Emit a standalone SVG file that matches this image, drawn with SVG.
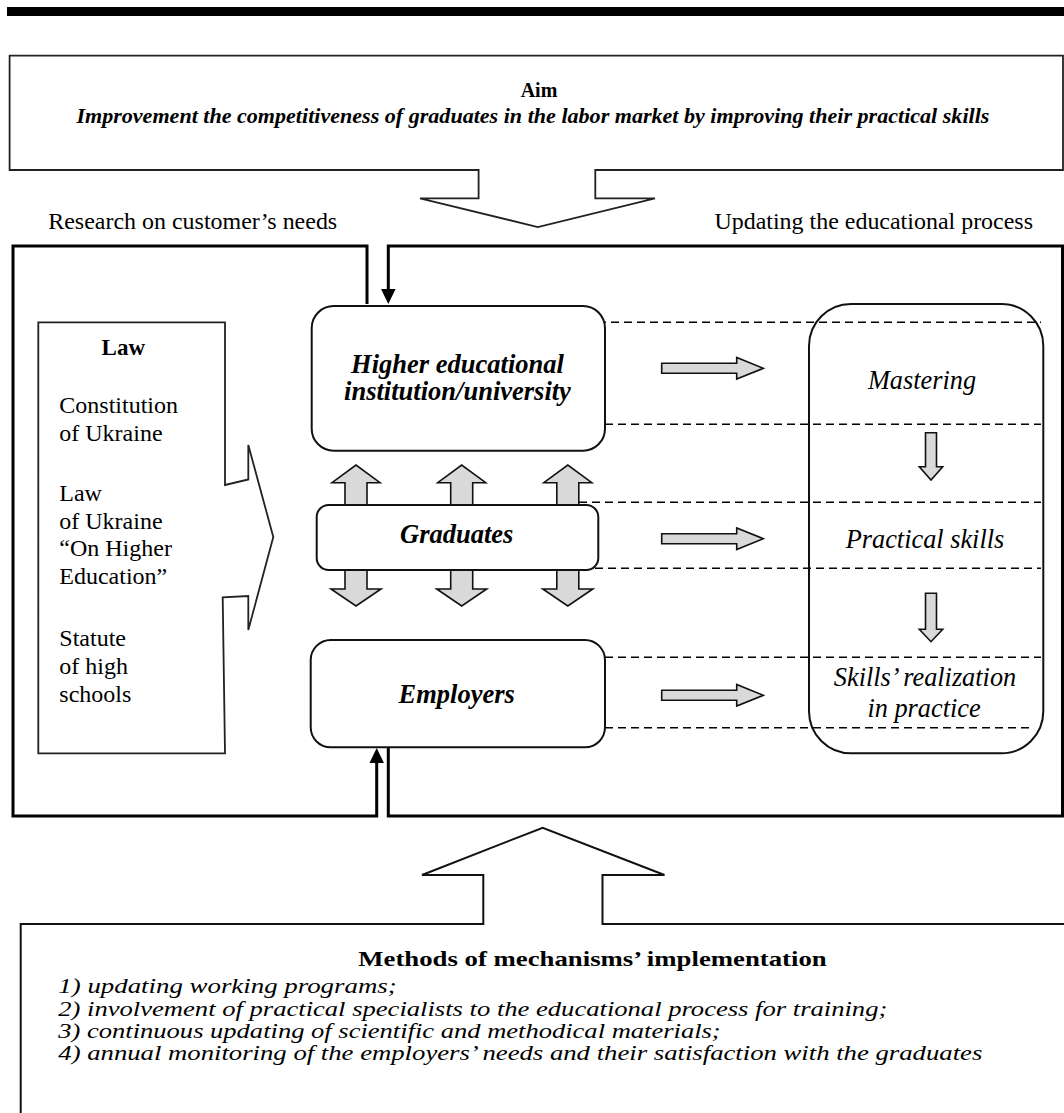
<svg xmlns="http://www.w3.org/2000/svg" width="1064" height="1113" viewBox="0 0 1064 1113">
<style>
text{font-family:"Liberation Serif","Times New Roman",serif;fill:#000}
.lbl{font-size:24px}
.law{font-size:24px}
.node{font-size:26.5px;font-weight:bold;font-style:italic;text-anchor:middle}
.res{font-size:26.3px;font-style:italic;text-anchor:middle}
.meth{font-size:20px;font-style:italic}
.box{fill:#fff;stroke:#111;stroke-width:2}
.thin{fill:#fff;stroke:#222;stroke-width:1.8}
.frame{fill:none;stroke:#000;stroke-width:3;stroke-linejoin:miter}
.dash{fill:none;stroke:#000;stroke-width:1.6;stroke-dasharray:8 5}
.gray{fill:#d9d9d9;stroke:#111;stroke-width:1.6;stroke-linejoin:miter}
.head{fill:#000}
</style>
<rect x="7" y="7" width="1057" height="9" fill="#000"/>

<g id="aim">
<polygon class="thin" points="9.6,55.7 1063,55.7 1063,170 595.3,170 595.3,198.3 655,198.3 537.8,227 420,198.3 478.6,198.3 478.6,170 9.6,170"/>
<text x="539" y="96.7" font-size="20" font-weight="bold" text-anchor="middle">Aim</text>
<text x="76.4" y="123.3" font-size="22" font-weight="bold" font-style="italic" textLength="913" lengthAdjust="spacingAndGlyphs">Improvement the competitiveness of graduates in the labor market by improving their practical skills</text>
</g>

<g id="labels">
<text class="lbl" x="48.2" y="229.3" textLength="289" lengthAdjust="spacingAndGlyphs">Research on customer’s needs</text>
<text class="lbl" x="714.4" y="229.3" textLength="318.6" lengthAdjust="spacingAndGlyphs">Updating the educational process</text>
</g>

<g id="connectors">
<path class="frame" d="M367,304 V246 H13 V816 H376.7 V762"/>
<polygon class="head" points="369.5,763 383.9,763 376.7,748"/>
<path class="frame" d="M388.3,748 V816 H1062.5 V246 H388.3 V290"/>
<polygon class="head" points="381,289 395.6,289 388.3,304"/>
<g id="dashes">
<line class="dash" x1="598" y1="322.3" x2="1041" y2="322.3"/>
<line class="dash" x1="605" y1="424.3" x2="1041" y2="424.3"/>
<line class="dash" x1="579" y1="502.3" x2="1041" y2="502.3"/>
<line class="dash" x1="595" y1="568.3" x2="1041" y2="568.3"/>
<line class="dash" x1="605" y1="657.3" x2="1041" y2="657.3"/>
<line class="dash" x1="605" y1="727.7" x2="1032" y2="727.7"/>
</g>
<g id="vertical-block-arrows">
<polygon class="gray" points="345,505 345,482.7 332,482.7 356,465 380,482.7 367,482.7 367,505"/>
<polygon class="gray" points="450.7,505 450.7,482.7 437.7,482.7 461.7,465 485.7,482.7 472.7,482.7 472.7,505"/>
<polygon class="gray" points="556.8,505 556.8,482.7 543.8,482.7 567.8,465 591.8,482.7 578.8,482.7 578.8,505"/>
<polygon class="gray" points="345,570 345,589 331,589 356,606 381,589 367,589 367,570"/>
<polygon class="gray" points="450.7,570 450.7,589 436.7,589 461.7,606 486.7,589 472.7,589 472.7,570"/>
<polygon class="gray" points="556.8,570 556.8,589 542.8,589 567.8,606 592.8,589 578.8,589 578.8,570"/>
</g>
<g id="horizontal-block-arrows">
<polygon class="gray" points="661.7,363.3 736.7,363.3 736.7,357.5 763.3,368.3 736.7,379.1 736.7,373.3 661.7,373.3"/>
<polygon class="gray" points="661.7,533.7 736.7,533.7 736.7,527.9 763.3,538.7 736.7,549.5 736.7,543.7 661.7,543.7"/>
<polygon class="gray" points="661.7,690.3 736.7,690.3 736.7,684.5 763.3,695.3 736.7,706.1 736.7,700.3 661.7,700.3"/>
</g>
<g id="column-arrows">
<polygon class="gray" points="925.5,432.7 936.5,432.7 936.5,466.7 942.7,466.7 931,480 919.3,466.7 925.5,466.7"/>
<polygon class="gray" points="925.5,593.3 936.5,593.3 936.5,629.3 942.7,629.3 931,641.7 919.3,629.3 925.5,629.3"/>
</g>
</g>

<g id="law">
<polygon class="thin" points="38.3,322.3 225,322.3 225,485 248.3,479.5 248.3,445 273.3,537 248.3,630 248.3,596 222.7,597.3 225,753.3 38.3,753.3"/>
<text x="123.3" y="355" font-size="23" font-weight="bold" text-anchor="middle">Law</text>
<text class="law" x="59.3" y="413.3">Constitution</text>
<text class="law" x="59.3" y="440.7">of Ukraine</text>
<text class="law" x="59.3" y="501.3">Law</text>
<text class="law" x="59.3" y="528.5">of Ukraine</text>
<text class="law" x="59.3" y="556.3">“On Higher</text>
<text class="law" x="59.3" y="583.7">Education”</text>
<text class="law" x="59.3" y="646">Statute</text>
<text class="law" x="59.3" y="673.6">of high</text>
<text class="law" x="59.3" y="701.5">schools</text>
</g>

<g id="hei">
<rect class="box" x="311.7" y="306" width="293.3" height="144.7" rx="22" ry="22"/>
<text class="node" x="457.5" y="372.7">Higher educational</text>
<text class="node" x="457.5" y="400">institution/university</text>
</g>

<g id="graduates">
<rect class="box" x="316.7" y="505" width="281.6" height="65" rx="12" ry="12"/>
<text class="node" x="456.7" y="542.7">Graduates</text>
</g>

<g id="employers">
<rect class="box" x="310.7" y="640" width="294.3" height="107.3" rx="20" ry="20"/>
<text class="node" x="456.7" y="703.3">Employers</text>
</g>

<g id="results">
<rect x="809" y="304" width="234.3" height="449.3" rx="42" ry="42" fill="none" stroke="#111" stroke-width="2"/>
<text class="res" x="922" y="389.3">Mastering</text>
<text class="res" x="925" y="548.3">Practical skills</text>
<text class="res" x="925" y="686">Skills’ realization</text>
<text class="res" x="924" y="716.7">in practice</text>
</g>

<g id="methods">
<path d="M20.7,1120 V924 H483.3 V875 H422 L542.7,827.7 L664.5,875 H602.5 V924 H1070" fill="#fff" stroke="#111" stroke-width="2"/>
<text x="358.3" y="966" font-size="22" font-weight="bold" textLength="468.4" lengthAdjust="spacingAndGlyphs">Methods of mechanisms’ implementation</text>
<text class="meth" x="58.3" y="993.3" textLength="338.4" lengthAdjust="spacingAndGlyphs">1) updating working programs;</text>
<text class="meth" x="58.3" y="1015.7" textLength="829" lengthAdjust="spacingAndGlyphs">2) involvement of practical specialists to the educational process for training;</text>
<text class="meth" x="58.3" y="1038" textLength="662.4" lengthAdjust="spacingAndGlyphs">3) continuous updating of scientific and methodical materials;</text>
<text class="meth" x="58.3" y="1060.3" textLength="924" lengthAdjust="spacingAndGlyphs">4) annual monitoring of the employers’ needs and their satisfaction with the graduates</text>
</g>
</svg>
